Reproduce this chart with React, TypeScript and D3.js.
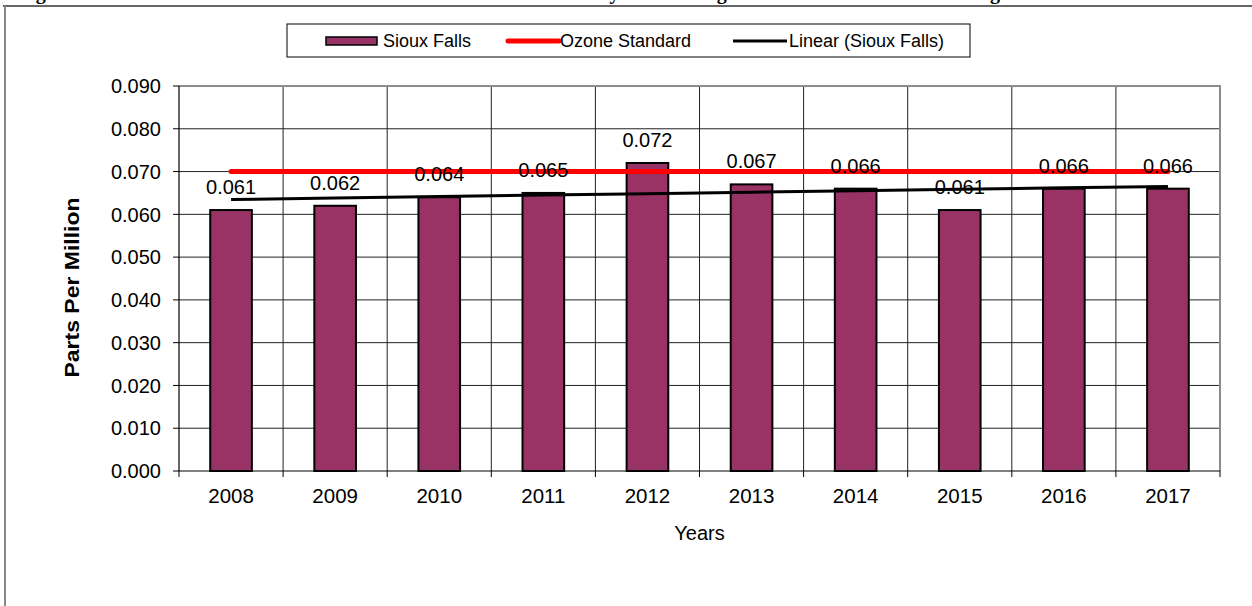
import { useEffect, useRef } from 'react';
import * as d3 from 'd3';

// chart values
const years = ['2008', '2009', '2010', '2011', '2012', '2013', '2014', '2015', '2016', '2017'];
const siouxFalls = [0.061, 0.062, 0.064, 0.065, 0.072, 0.067, 0.066, 0.061, 0.066, 0.066];
const ozoneStandard = [0.07, 0.07, 0.07, 0.07, 0.07, 0.07, 0.07, 0.07, 0.07, 0.07];
const yTicks = [0, 0.01, 0.02, 0.03, 0.04, 0.05, 0.06, 0.07, 0.08, 0.09];
const legendLabels = ['Sioux Falls', 'Ozone Standard', 'Linear (Sioux Falls)'];

const W = 1252;
const H = 606;
const FONT = 'Arial, "Liberation Sans", Helvetica, sans-serif';
const BAR = '#993366';

const App = () => {
    const svgRef = useRef(null);

    useEffect(() => {
        const svg = d3.select(svgRef.current);
        svg.selectAll('*').remove();

        const left = 179, right = 1220, top = 86, bottom = 471;

        const x = d3.scaleBand().domain(years).range([left, right]).paddingInner(0).paddingOuter(0);
        const y = d3.scaleLinear().domain([0, 0.09]).range([bottom, top]);
        const cx = (d) => x(d) + x.bandwidth() / 2;

        // outer frame (page border around the figure)
        svg.append('line').attr('x1', 3).attr('x2', W).attr('y1', 6).attr('y2', 6)
            .attr('stroke', '#333').attr('stroke-width', 1.5);
        svg.append('line').attr('x1', 5).attr('x2', 5).attr('y1', 6).attr('y2', H)
            .attr('stroke', '#888').attr('stroke-width', 2);

        // title, cut off at the top of the page: only the descenders show
        const title = svg.append('text')
            .attr('y', -1)
            .style('font-family', '"Liberation Serif", "Times New Roman", serif')
            .style('font-weight', 'bold')
            .style('font-size', '20px');
        title.append('tspan').attr('x', 18).text('Figure 7. Sioux Falls Ozone');
        title.append('tspan').attr('x', 564).text('Yearly');
        title.append('tspan').attr('x', 666).text('Average');
        title.append('tspan').attr('x', 929).text('Readings');

        // gridlines
        svg.append('g').selectAll('line.h')
            .data(yTicks.slice(1, -1))
            .enter().append('line')
            .attr('x1', left).attr('x2', right)
            .attr('y1', d => y(d)).attr('y2', d => y(d))
            .attr('stroke', '#222').attr('stroke-width', 1);
        svg.append('g').selectAll('line.v')
            .data(years.slice(1))
            .enter().append('line')
            .attr('x1', d => x(d)).attr('x2', d => x(d))
            .attr('y1', top).attr('y2', bottom)
            .attr('stroke', '#222').attr('stroke-width', 1);

        // plot border top / right
        svg.append('path')
            .attr('d', `M${left},${top}H${right}V${bottom}`)
            .attr('fill', 'none').attr('stroke', '#8c8c8c').attr('stroke-width', 2);

        // bars
        const bw = x.bandwidth() * 0.4;
        svg.append('g').selectAll('rect')
            .data(siouxFalls)
            .enter().append('rect')
            .attr('x', (d, i) => cx(years[i]) - bw / 2)
            .attr('width', bw)
            .attr('y', d => y(d))
            .attr('height', d => y(0) - y(d))
            .attr('fill', BAR)
            .attr('stroke', '#000')
            .attr('stroke-width', 2);

        // linear trend of the bars
        const xs = years.map((d, i) => i);
        const mx = d3.mean(xs), my = d3.mean(siouxFalls);
        const slope = d3.sum(xs, (v, i) => (v - mx) * (siouxFalls[i] - my)) / d3.sum(xs, v => (v - mx) ** 2);
        const trend = xs.map(v => my + slope * (v - mx));

        svg.append('path')
            .datum(trend)
            .attr('d', d3.line().x((d, i) => cx(years[i])).y(d => y(d)))
            .attr('fill', 'none').attr('stroke', '#000').attr('stroke-width', 3);

        // ozone standard
        svg.append('path')
            .datum(ozoneStandard)
            .attr('d', d3.line().x((d, i) => cx(years[i])).y(d => y(d)))
            .attr('fill', 'none').attr('stroke', '#ff0000').attr('stroke-width', 5)
            .attr('stroke-linecap', 'round');

        // axes
        svg.append('line').attr('x1', left).attr('x2', left).attr('y1', top).attr('y2', bottom)
            .attr('stroke', '#000').attr('stroke-width', 1.2);
        svg.append('line').attr('x1', left).attr('x2', right).attr('y1', bottom).attr('y2', bottom)
            .attr('stroke', '#000').attr('stroke-width', 1.2);

        const yAxis = svg.append('g');
        yTicks.forEach(t => {
            yAxis.append('line').attr('x1', left - 6).attr('x2', left).attr('y1', y(t)).attr('y2', y(t))
                .attr('stroke', '#000');
            yAxis.append('text')
                .attr('x', 161).attr('y', y(t)).attr('dy', '0.36em')
                .attr('text-anchor', 'end')
                .style('font-family', FONT).style('font-size', '20px')
                .text(d3.format('.3f')(t));
        });

        const xAxis = svg.append('g');
        [...years.map(d => x(d)), right].forEach(v => {
            xAxis.append('line').attr('x1', v).attr('x2', v).attr('y1', bottom).attr('y2', bottom + 6)
                .attr('stroke', '#000');
        });
        years.forEach(d => {
            xAxis.append('text')
                .attr('x', cx(d)).attr('y', 503)
                .attr('text-anchor', 'middle')
                .style('font-family', FONT).style('font-size', '20.5px')
                .text(d);
        });

        // data labels
        svg.append('g').selectAll('text')
            .data(siouxFalls)
            .enter().append('text')
            .attr('x', (d, i) => cx(years[i]))
            .attr('y', d => y(d) - 16)
            .attr('text-anchor', 'middle')
            .style('font-family', FONT).style('font-size', '20px')
            .text(d => d3.format('.3f')(d));

        // axis titles
        svg.append('text')
            .attr('x', (left + right) / 2).attr('y', 540)
            .attr('text-anchor', 'middle')
            .style('font-family', FONT).style('font-size', '20px')
            .text('Years');
        svg.append('text')
            .attr('transform', `translate(79, ${(top + bottom) / 2 + 9}) rotate(-90)`)
            .attr('text-anchor', 'middle')
            .attr('textLength', 180)
            .attr('lengthAdjust', 'spacingAndGlyphs')
            .style('font-family', FONT).style('font-size', '20px').style('font-weight', 'bold')
            .text('Parts Per Million');

        // legend
        const legend = svg.append('g');
        legend.append('rect')
            .attr('x', 287).attr('y', 24).attr('width', 683).attr('height', 33)
            .attr('fill', '#fff').attr('stroke', '#000').attr('stroke-width', 1);
        const ly = 41;
        legend.append('rect')
            .attr('x', 326).attr('y', ly - 4).attr('width', 51).attr('height', 8)
            .attr('fill', BAR).attr('stroke', '#000').attr('stroke-width', 1.5);
        legend.append('line').attr('x1', 508).attr('x2', 559).attr('y1', ly).attr('y2', ly)
            .attr('stroke', '#ff0000').attr('stroke-width', 5).attr('stroke-linecap', 'round');
        legend.append('line').attr('x1', 733).attr('x2', 787).attr('y1', ly).attr('y2', ly)
            .attr('stroke', '#000').attr('stroke-width', 3);
        [383, 560, 789].forEach((lx, i) => {
            legend.append('text')
                .attr('x', lx).attr('y', ly).attr('dy', '0.36em')
                .style('font-family', FONT).style('font-size', '18px')
                .text(legendLabels[i]);
        });
    }, []);

    return (
        <svg ref={svgRef} width={W} height={H}
            style={{ position: 'absolute', left: 0, top: 0, background: '#fff' }}></svg>
    );
};

export default App;
